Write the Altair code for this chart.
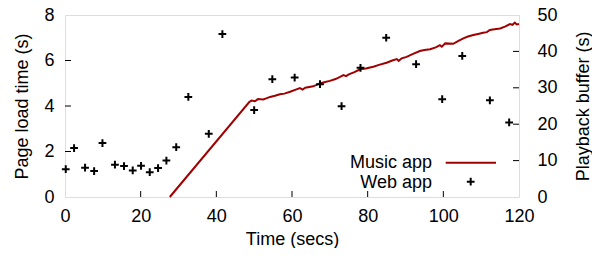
import altair as alt
import pandas as pd

# Web app page load times (left axis)
web_t = [0.2, 2.4, 5.3, 7.7, 9.9, 13.2, 15.6, 17.9, 20.1, 22.4, 24.6, 26.8, 29.4, 32.6,
         38.0, 41.6, 50.0, 54.8, 60.7, 67.4, 73.1, 78.1, 84.9, 92.8, 99.7, 105.0, 112.3, 117.4]
web_plt = [1.22, 2.15, 1.29, 1.14, 2.37, 1.42, 1.36, 1.17, 1.37, 1.09, 1.27, 1.60, 2.19, 4.40,
           2.78, 7.16, 3.82, 5.18, 5.25, 4.96, 3.99, 5.68, 7.00, 5.84, 4.30, 6.20, 4.25, 3.28]

# Music app playback buffer (right axis)
music_t = [27.7, 48.7, 49.3, 50.2, 51.0, 52.4, 53.2, 54.2, 55.5, 56.8, 58.0, 59.5, 61.0, 62.1,
           62.8, 63.5, 65.6, 67.4, 68.5, 70.0, 71.5, 72.7, 73.6, 74.3, 75.0, 76.5, 78.0, 79.5,
           81.5, 83.0, 85.0, 86.5, 87.7, 88.2, 89.0, 90.3, 92.0, 93.8, 95.0, 96.5, 98.0, 99.1,
           99.6, 100.5, 102.6, 104.0, 105.3, 106.5, 107.9, 109.2, 110.5, 111.5, 112.3, 113.5,
           115.0, 116.3, 117.6, 118.3, 118.9, 119.4, 120.0]
music_buf = [0.0, 26.1, 26.5, 26.3, 26.9, 26.8, 27.1, 27.5, 27.8, 28.2, 28.4, 28.9, 29.5, 29.9,
             29.5, 30.0, 30.4, 31.2, 31.5, 31.9, 32.4, 33.0, 33.5, 33.2, 33.7, 34.3, 35.1, 35.3,
             35.8, 36.3, 36.9, 37.5, 37.9, 37.4, 38.1, 38.5, 39.3, 40.1, 40.4, 40.6, 41.1, 41.7,
             41.3, 42.2, 42.1, 42.9, 43.6, 44.1, 44.5, 44.8, 45.1, 45.3, 45.9, 46.1,
             46.3, 46.8, 47.5, 47.3, 47.9, 47.4, 47.5]

x_ticks = [0, 20, 40, 60, 80, 100, 120]
left_ticks = [0, 2, 4, 6, 8]
right_ticks = [0, 10, 20, 30, 40, 50]
legend_labels = ["Music app", "Web app"]

W, H = 454, 182
RED = "#a00000"
FONT = "Liberation Sans"

web_df = pd.DataFrame({"t": web_t, "plt": web_plt})
music_df = pd.DataFrame({"t": music_t, "buf": music_buf})

xscale = alt.Scale(domain=[0, 120], nice=False, zero=False)
lscale = alt.Scale(domain=[0, 8], nice=False)
rscale = alt.Scale(domain=[0, 50], nice=False)

common_axis = dict(domain=False, ticks=False, tickSize=0, grid=False, labelFlush=False,
                   labelOverlap=False,
                   labelFontSize=18, titleFontSize=18, labelFont=FONT, titleFont=FONT,
                   labelColor="black", titleColor="black", titleFontWeight="normal")

line = alt.Chart(music_df).mark_line(color=RED, strokeWidth=2).encode(
    x=alt.X("t:Q", scale=xscale,
            axis=alt.Axis(values=x_ticks, title="Time (secs)", labelPadding=10,
                          titleY=47.5, titleBaseline="alphabetic", **common_axis)),
    y=alt.Y("buf:Q", scale=rscale,
            axis=alt.Axis(orient="right", values=right_ticks, title="Playback buffer (s)",
                          labelPadding=18, titleAngle=270, titleX=69.5, titleY=H / 2,
                          titleBaseline="alphabetic", titleAlign="center", **common_axis)),
)

points = alt.Chart(web_df).mark_point(
    shape="M-1,0L1,0M0,-1L0,1", size=60, filled=False, color="black", strokeWidth=2, opacity=1
).encode(
    x=alt.X("t:Q", scale=xscale),
    y=alt.Y("plt:Q", scale=lscale,
            axis=alt.Axis(orient="left", values=left_ticks, title="Page load time (s)",
                          labelPadding=11, titleAngle=270, titleX=-37.5, titleY=H / 2,
                          titleBaseline="alphabetic", titleAlign="center", **common_axis)),
)

xt = alt.Chart(pd.DataFrame({"v": x_ticks[1:-1]})).mark_rule(color="black", strokeWidth=1).encode(
    x=alt.X("v:Q", scale=xscale), y=alt.value(H), y2=alt.value(H - 6))
lt = alt.Chart(pd.DataFrame({"v": left_ticks[1:-1]})).mark_rule(color="black", strokeWidth=1).encode(
    y=alt.Y("v:Q", scale=lscale, axis=None), x=alt.value(0), x2=alt.value(6))
rt = alt.Chart(pd.DataFrame({"v": right_ticks[1:-1]})).mark_rule(color="black", strokeWidth=1).encode(
    y=alt.Y("v:Q", scale=rscale, axis=None), x=alt.value(W), x2=alt.value(W - 6))

leg_df = pd.DataFrame({"label": legend_labels})
leg_text1 = alt.Chart(leg_df).transform_filter(alt.datum.label == legend_labels[0]).mark_text(
    align="right", baseline="alphabetic", fontSize=18, font=FONT, color="black"
).encode(text="label:N", x=alt.value(367), y=alt.value(153.3))
leg_text2 = alt.Chart(leg_df).transform_filter(alt.datum.label == legend_labels[1]).mark_text(
    align="right", baseline="alphabetic", fontSize=18, font=FONT, color="black"
).encode(text="label:N", x=alt.value(367), y=alt.value(173.3))
leg_line = alt.Chart(leg_df).transform_filter(alt.datum.label == legend_labels[0]).mark_rule(
    color=RED, strokeWidth=2
).encode(x=alt.value(380.7), x2=alt.value(431), y=alt.value(147.7))
leg_pt = alt.Chart(leg_df).transform_filter(alt.datum.label == legend_labels[1]).mark_point(
    shape="M-1,0L1,0M0,-1L0,1", size=60, filled=False, color="black", strokeWidth=2, opacity=1
).encode(x=alt.value(405.7), y=alt.value(166.7))

chart = alt.layer(line, points, xt, lt, rt, leg_text1, leg_text2, leg_line, leg_pt).resolve_scale(
    y="independent"
).properties(
    width=W, height=H,
    autosize=alt.AutoSizeParams(type="none"),
    padding={"left": 57, "top": 7, "right": 73, "bottom": 51},
).configure_view(stroke="black", strokeWidth=1.2).configure(background="white")

chart.save("out.html", embed_options={"renderer": "svg", "actions": False})
